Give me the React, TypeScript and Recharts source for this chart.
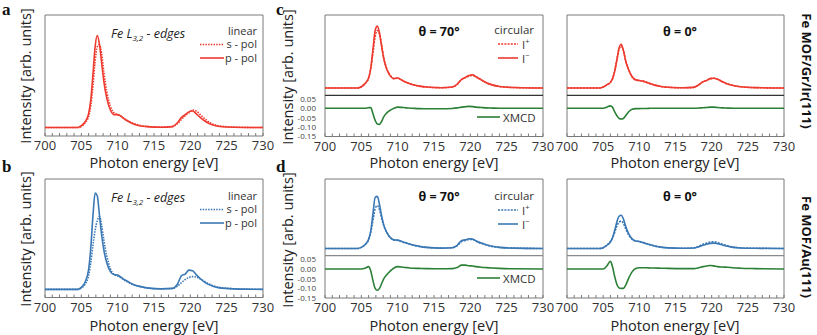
import React from 'react';
import { LineChart, Line, XAxis, YAxis, ReferenceArea, ReferenceLine } from 'recharts';

// Photon energy grid (eV)
const energy = [700, 703, 704.5, 705, 705.5, 706, 706.3, 706.6, 706.9, 707.2, 707.5, 707.8, 708.1, 708.5, 709, 709.5, 710, 710.5, 711, 711.5, 712, 713, 714, 716, 717.5, 718.2, 718.8, 719.3, 719.8, 720.3, 720.8, 721.5, 722.2, 723, 724, 726, 730];

// Panel a (Fe MOF/Gr/Ir(111), linear)
const aSpol = [0, 0, 0, 0.01, 0.05, 0.12, 0.24, 0.45, 0.72, 0.88, 0.9, 0.8, 0.6, 0.39, 0.23, 0.16, 0.14, 0.12, 0.09, 0.07, 0.05, 0.025, 0.012, 0.005, 0.01, 0.04, 0.09, 0.13, 0.16, 0.19, 0.18, 0.13, 0.08, 0.04, 0.018, 0.005, 0];
const aPpol = [0, 0, 0, 0.02, 0.06, 0.15, 0.3, 0.58, 0.88, 1.0, 0.9, 0.7, 0.5, 0.32, 0.19, 0.14, 0.14, 0.12, 0.09, 0.065, 0.045, 0.02, 0.01, 0.003, 0.01, 0.05, 0.11, 0.14, 0.17, 0.18, 0.15, 0.1, 0.06, 0.03, 0.012, 0.003, 0];

// Panel b (Fe MOF/Au(111), linear)
const bSpol = [0, 0, 0, 0.015, 0.05, 0.14, 0.27, 0.45, 0.6, 0.7, 0.74, 0.65, 0.5, 0.34, 0.21, 0.15, 0.135, 0.115, 0.09, 0.07, 0.05, 0.03, 0.015, 0.005, 0.008, 0.03, 0.07, 0.1, 0.12, 0.13, 0.125, 0.1, 0.07, 0.04, 0.02, 0.006, 0];
const bPpol = [0, 0, 0, 0.02, 0.07, 0.2, 0.42, 0.75, 0.98, 0.95, 0.75, 0.55, 0.4, 0.27, 0.18, 0.15, 0.145, 0.12, 0.095, 0.075, 0.055, 0.03, 0.015, 0.005, 0.01, 0.05, 0.14, 0.155, 0.195, 0.19, 0.15, 0.1, 0.06, 0.035, 0.015, 0.005, 0];

// Panel c, theta = 70 deg
const c70Iplus = [0, 0, 0, 0.02, 0.07, 0.16, 0.31, 0.56, 0.82, 0.92, 0.86, 0.68, 0.48, 0.31, 0.2, 0.15, 0.16, 0.13, 0.1, 0.075, 0.055, 0.03, 0.015, 0.005, 0.015, 0.06, 0.135, 0.165, 0.19, 0.2, 0.175, 0.13, 0.085, 0.05, 0.025, 0.008, 0];
const c70Iminus = [0, 0, 0, 0.02, 0.07, 0.16, 0.32, 0.62, 0.92, 0.99, 0.88, 0.66, 0.46, 0.3, 0.19, 0.15, 0.16, 0.13, 0.1, 0.075, 0.055, 0.03, 0.015, 0.005, 0.015, 0.06, 0.14, 0.17, 0.2, 0.21, 0.18, 0.13, 0.085, 0.05, 0.025, 0.008, 0];
const c70Xmcd = [0, 0, 0, 0, 0, 0.003, 0.004, -0.03, -0.065, -0.085, -0.087, -0.07, -0.045, -0.025, -0.01, 0, 0.006, 0.005, 0.003, 0.001, 0, -0.002, -0.003, -0.003, -0.001, 0.002, 0.006, 0.008, 0.01, 0.009, 0.006, 0.004, 0.002, 0.001, 0, 0, 0];

// Panel c, theta = 0 deg
const c0Iplus = [0, 0, 0, 0.015, 0.05, 0.09, 0.15, 0.28, 0.46, 0.62, 0.67, 0.6, 0.44, 0.3, 0.18, 0.13, 0.12, 0.11, 0.09, 0.07, 0.05, 0.025, 0.012, 0.004, 0.01, 0.05, 0.1, 0.12, 0.15, 0.155, 0.14, 0.1, 0.065, 0.04, 0.02, 0.006, 0];
const c0Iminus = [0, 0, 0, 0.015, 0.05, 0.09, 0.15, 0.27, 0.45, 0.64, 0.7, 0.6, 0.44, 0.3, 0.18, 0.13, 0.12, 0.11, 0.09, 0.07, 0.05, 0.025, 0.012, 0.004, 0.01, 0.05, 0.1, 0.12, 0.15, 0.155, 0.14, 0.1, 0.065, 0.04, 0.02, 0.006, 0];
const c0Xmcd = [0, 0, 0, 0, 0.006, 0.013, 0.005, -0.02, -0.04, -0.055, -0.058, -0.055, -0.04, -0.02, -0.005, -0.002, -0.002, -0.001, -0.001, 0, 0, 0, 0, 0, 0, 0.001, 0.003, 0.004, 0.006, 0.006, 0.004, 0.002, 0.001, 0, 0, 0, 0];

// Panel d, theta = 70 deg
const d70Iplus = [0, 0, 0, 0.02, 0.07, 0.16, 0.3, 0.52, 0.74, 0.8, 0.72, 0.56, 0.42, 0.3, 0.2, 0.16, 0.15, 0.13, 0.105, 0.085, 0.065, 0.038, 0.02, 0.006, 0.014, 0.055, 0.13, 0.15, 0.17, 0.17, 0.135, 0.095, 0.065, 0.038, 0.02, 0.006, 0];
const d70Iminus = [0, 0, 0, 0.02, 0.07, 0.17, 0.33, 0.65, 0.95, 0.97, 0.82, 0.6, 0.43, 0.3, 0.2, 0.16, 0.155, 0.135, 0.11, 0.09, 0.07, 0.04, 0.02, 0.006, 0.015, 0.06, 0.15, 0.16, 0.18, 0.175, 0.14, 0.1, 0.07, 0.04, 0.02, 0.006, 0];
const d70Xmcd = [0, 0, 0, 0, 0.004, 0.012, -0.01, -0.06, -0.1, -0.11, -0.1, -0.075, -0.05, -0.03, -0.01, 0.005, 0.012, 0.01, 0.008, 0.006, 0.004, 0.003, 0.002, 0.001, 0.002, 0.008, 0.02, 0.02, 0.017, 0.015, 0.012, 0.009, 0.007, 0.005, 0.003, 0.001, 0];

// Panel d, theta = 0 deg
const d0Iplus = [0, 0, 0, 0.015, 0.06, 0.13, 0.2, 0.3, 0.42, 0.49, 0.51, 0.47, 0.37, 0.26, 0.17, 0.14, 0.13, 0.11, 0.09, 0.07, 0.05, 0.025, 0.012, 0.004, 0.01, 0.04, 0.08, 0.1, 0.12, 0.125, 0.11, 0.08, 0.05, 0.025, 0.012, 0.004, 0];
const d0Iminus = [0, 0, 0, 0.015, 0.06, 0.12, 0.2, 0.34, 0.5, 0.6, 0.62, 0.55, 0.42, 0.28, 0.18, 0.14, 0.13, 0.11, 0.09, 0.07, 0.05, 0.025, 0.012, 0.004, 0.008, 0.03, 0.06, 0.08, 0.095, 0.1, 0.09, 0.065, 0.04, 0.02, 0.01, 0.004, 0];
const d0Xmcd = [0, 0, 0, 0, 0.015, 0.04, 0.01, -0.04, -0.08, -0.098, -0.1, -0.1, -0.085, -0.05, -0.015, 0.002, 0.006, 0.006, 0.006, 0.005, 0.005, 0.004, 0.003, 0.002, 0.002, 0.006, 0.012, 0.015, 0.018, 0.016, 0.012, 0.01, 0.009, 0.006, 0.004, 0.002, 0];

const xTicks = [700, 701, 702, 703, 704, 705, 706, 707, 708, 709, 710, 711, 712, 713, 714, 715, 716, 717, 718, 719, 720, 721, 722, 723, 724, 725, 726, 727, 728, 729, 730];
const xmcdTicks = [0.05, 0, -0.05, -0.1, -0.15];

const RED = '#ee3b2f';
const BLUE = '#3a78b5';
const GREEN = '#2b8036';
const BOX = '#7a7a7a';
const FONT = '"Open Sans", "Noto Sans", sans-serif';

const LM = 44, RM = 12, TM = 2, XH = 26;

const linRows = (s: number[], p: number[]) => energy.map((e, i) => ({ e, s: s[i], p: p[i] }));
const circRows = (ip: number[], im: number[], x: number[]) => energy.map((e, i) => ({ e, ip: ip[i], im: im[i], x: x[i] }));

type XmcdCfg = { domain: [number, number]; sep: number; sepColor: string; labels: boolean };
type PanelProps = {
  x: number; y: number; w: number; h: number; rows: any[];
  intDomain: [number, number]; color: string;
  series: { key: string; dash?: string }[];
  xmcd?: XmcdCfg;
};

const fmtX = (v: number) => (v % 5 === 0 ? String(v) : '');

const XmcdTick = (props: any) => (
  <text x={LM - 9} y={props.y} dy={3} textAnchor="end" fontSize={8} fill="#444" fontFamily={FONT}>
    {Number(props.payload.value).toFixed(2)}
  </text>
);

function Panel(p: PanelProps) {
  const width = p.w + LM + RM;
  const height = p.h + TM + XH;
  return (
    <div style={{ position: 'absolute', left: p.x - LM, top: p.y - TM }}>
      <LineChart width={width} height={height} data={p.rows} margin={{ top: TM, right: RM, bottom: 0, left: p.xmcd ? 0 : LM }}>
        <XAxis xAxisId="b" dataKey="e" type="number" domain={[700, 730]} ticks={xTicks} interval={0}
          tickFormatter={fmtX} tickSize={-3} tickMargin={8} height={XH} axisLine={false}
          tickLine={{ stroke: BOX }} tick={{ fontSize: 13, fill: '#333', fontFamily: FONT }} allowDataOverflow />
        <XAxis xAxisId="t" orientation="top" dataKey="e" type="number" domain={[700, 730]} ticks={xTicks} interval={0}
          tick={false} tickSize={-3} height={0} axisLine={false} tickLine={{ stroke: BOX }} allowDataOverflow />
        <YAxis yAxisId="i" hide type="number" domain={p.intDomain} allowDataOverflow />
        {p.xmcd && (
          <YAxis yAxisId="x" type="number" domain={p.xmcd.domain} ticks={xmcdTicks} interval={0} width={LM}
            tickSize={-3} tickMargin={12} axisLine={false} tickLine={{ stroke: BOX }}
            tick={p.xmcd.labels ? XmcdTick : false} allowDataOverflow />
        )}
        <ReferenceArea xAxisId="b" yAxisId="i" x1={700} x2={730} y1={p.intDomain[0]} y2={p.intDomain[1]}
          fill="none" fillOpacity={0} stroke={BOX} strokeWidth={1} ifOverflow="visible" />
        {p.xmcd && (
          <ReferenceLine xAxisId="b" yAxisId="x" y={p.xmcd.sep} stroke={p.xmcd.sepColor} strokeWidth={1.2} />
        )}
        {p.xmcd && (
          <Line xAxisId="b" yAxisId="x" dataKey="x" type="monotone" stroke={GREEN} strokeWidth={1.6}
            dot={false} isAnimationActive={false} />
        )}
        {p.series.map((s) => (
          <Line key={s.key} xAxisId="b" yAxisId="i" dataKey={s.key} type="monotone" stroke={p.color}
            strokeWidth={1.6} strokeDasharray={s.dash} dot={false} isAnimationActive={false} />
        ))}
      </LineChart>
    </div>
  );
}

const linSeries = [{ key: 's', dash: '1.5 1.2' }, { key: 'p' }];
const circSeries = [{ key: 'ip', dash: '2 1.2' }, { key: 'im' }];

const cX: XmcdCfg = { domain: [-0.152, 0.502], sep: 0.069, sepColor: '#333', labels: true };
const cXr: XmcdCfg = { ...cX, labels: false };
const dX: XmcdCfg = { domain: [-0.15, 0.465], sep: 0.069, sepColor: '#8a8a8a', labels: true };
const dXr: XmcdCfg = { ...dX, labels: false };

function FeLabel({ x, y }: { x: number; y: number }) {
  return (
    <text x={x} y={y} fontFamily={FONT} fontStyle="italic" fontSize={12.5} fill="#222">
      Fe L<tspan fontSize={8} dy={3}>3,2</tspan><tspan dy={-3}> - edges</tspan>
    </text>
  );
}

function LinLegend({ y, color }: { y: number; color: string }) {
  return (
    <g fontFamily={FONT} fontSize={11} fill="#333">
      <text x={257} y={y} textAnchor="end">linear</text>
      <line x1={200} x2={224} y1={y + 9.5} y2={y + 9.5} stroke={color} strokeWidth={1.6} strokeDasharray="1.5 1.2" />
      <text x={257} y={y + 13} textAnchor="end">s - pol</text>
      <line x1={200} x2={224} y1={y + 23} y2={y + 23} stroke={color} strokeWidth={1.6} />
      <text x={257} y={y + 26.5} textAnchor="end">p - pol</text>
    </g>
  );
}

function CircLegend({ y, color, xmcdY }: { y: number; color: string; xmcdY: number }) {
  return (
    <g fontFamily={FONT} fontSize={11.5} fill="#333">
      <text x={534} y={y - 1} textAnchor="end">circular</text>
      <line x1={498} x2={518} y1={y + 9} y2={y + 9} stroke={color} strokeWidth={1.6} strokeDasharray="2 1.2" />
      <text x={522} y={y + 14}>I<tspan fontSize={7.5} dy={-5}>+</tspan></text>
      <line x1={498} x2={518} y1={y + 23} y2={y + 23} stroke={color} strokeWidth={1.6} />
      <text x={522} y={y + 28}>I<tspan fontSize={7.5} dy={-5}>−</tspan></text>
      <line x1={477} x2={500} y1={xmcdY} y2={xmcdY} stroke={GREEN} strokeWidth={1.6} />
      <text x={503} y={xmcdY + 4.5}>XMCD</text>
    </g>
  );
}

function Overlay() {
  const lbl = { fontFamily: FONT, fontSize: 14.5, fill: '#222' } as const;
  const big = { fontFamily: 'serif', fontWeight: 700, fontSize: 17, fill: '#111' } as const;
  const theta = { fontFamily: FONT, fontWeight: 700, fontSize: 12.5, fill: '#111' } as const;
  return (
    <svg width={817} height={335} style={{ position: 'absolute', left: 0, top: 0, pointerEvents: 'none' }}>
      <text x={2} y={15} {...big}>a</text>
      <text x={2} y={172} {...big}>b</text>
      <text x={276} y={15} {...big}>c</text>
      <text x={276} y={172} {...big}>d</text>

      <text transform="translate(31,76) rotate(-90)" textAnchor="middle" {...lbl}>Intensity [arb. units]</text>
      <text transform="translate(31,239) rotate(-90)" textAnchor="middle" {...lbl}>Intensity [arb. units]</text>
      <text transform="translate(293,77) rotate(-90)" textAnchor="middle" {...lbl}>Intensity [arb. units]</text>
      <text transform="translate(293,240) rotate(-90)" textAnchor="middle" {...lbl}>Intensity [arb. units]</text>

      <text x={154} y={168} textAnchor="middle" {...lbl}>Photon energy [eV]</text>
      <text x={154} y={331} textAnchor="middle" {...lbl}>Photon energy [eV]</text>
      <text x={434} y={168} textAnchor="middle" {...lbl}>Photon energy [eV]</text>
      <text x={675} y={168} textAnchor="middle" {...lbl}>Photon energy [eV]</text>
      <text x={434} y={331} textAnchor="middle" {...lbl}>Photon energy [eV]</text>
      <text x={675} y={331} textAnchor="middle" {...lbl}>Photon energy [eV]</text>

      <FeLabel x={111} y={38} />
      <FeLabel x={111} y={202} />
      <LinLegend y={35} color={RED} />
      <LinLegend y={200} color={BLUE} />
      <CircLegend y={35} color={RED} xmcdY={117} />
      <CircLegend y={201} color={BLUE} xmcdY={278} />

      <text x={439} y={36} textAnchor="middle" {...theta}>θ = 70°</text>
      <text x={680} y={36} textAnchor="middle" {...theta}>θ = 0°</text>
      <text x={439} y={201} textAnchor="middle" {...theta}>θ = 70°</text>
      <text x={680} y={201} textAnchor="middle" {...theta}>θ = 0°</text>

      <text transform="translate(802,71) rotate(90)" textAnchor="middle" fontFamily={FONT} fontWeight={700} fontSize={13} fill="#111">Fe MOF/Gr/Ir(111)</text>
      <text transform="translate(802,247) rotate(90)" textAnchor="middle" fontFamily={FONT} fontWeight={700} fontSize={13} fill="#111">Fe MOF/Au(111)</text>
    </svg>
  );
}

export default function App() {
  return (
    <div style={{ position: 'absolute', left: 0, top: 0, width: 817, height: 335, background: '#fff', overflow: 'hidden' }}>
      <Panel x={45} y={15} w={218} h={121} rows={linRows(aSpol, aPpol)} intDomain={[-0.092, 1.223]} color={RED} series={linSeries} />
      <Panel x={45} y={179} w={218} h={118.5} rows={linRows(bSpol, bPpol)} intDomain={[-0.083, 1.122]} color={BLUE} series={linSeries} />
      <Panel x={325} y={15} w={218} h={121.5} rows={circRows(c70Iplus, c70Iminus, c70Xmcd)} intDomain={[-0.776, 1.168]} color={RED} series={circSeries} xmcd={cX} />
      <Panel x={567} y={15} w={217} h={121.5} rows={circRows(c0Iplus, c0Iminus, c0Xmcd)} intDomain={[-0.776, 1.168]} color={RED} series={circSeries} xmcd={cXr} />
      <Panel x={325} y={179} w={218} h={119} rows={circRows(d70Iplus, d70Iminus, d70Xmcd)} intDomain={[-0.922, 1.294]} color={BLUE} series={circSeries} xmcd={dX} />
      <Panel x={567} y={179} w={217} h={119} rows={circRows(d0Iplus, d0Iminus, d0Xmcd)} intDomain={[-0.922, 1.294]} color={BLUE} series={circSeries} xmcd={dXr} />
      <Overlay />
    </div>
  );
}
